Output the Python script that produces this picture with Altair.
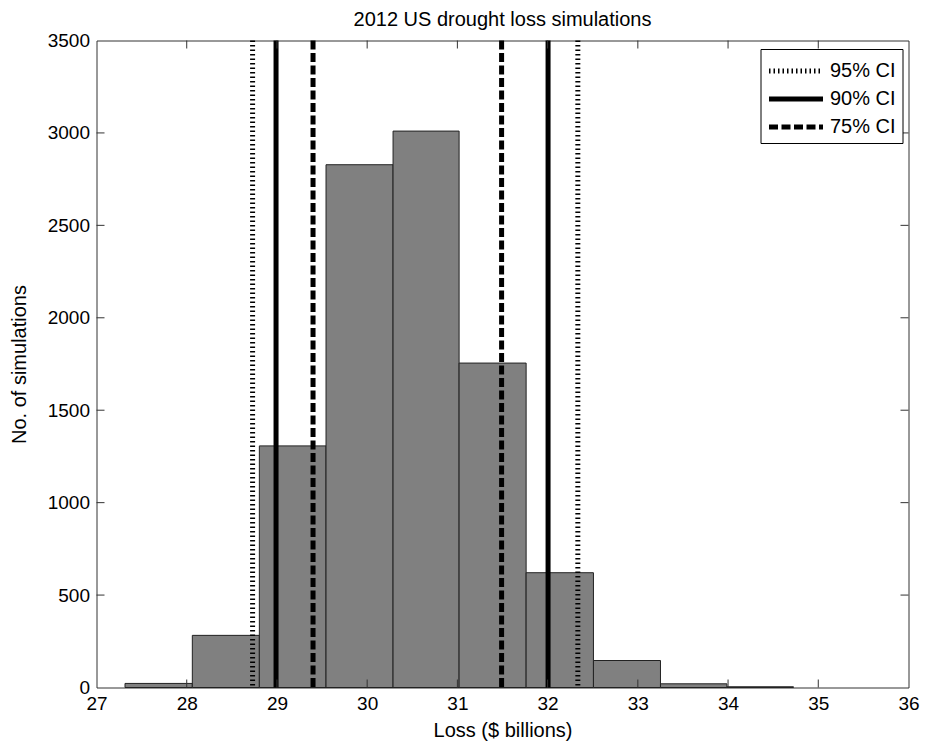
import altair as alt
import pandas as pd

# histogram bins (left/right edges in $ billions) and counts
bin_left = [27.316, 28.062, 28.805, 29.544, 30.287, 31.019, 31.762, 32.508, 33.251, 33.987]
bin_right = [28.062, 28.805, 29.544, 30.287, 31.019, 31.762, 32.508, 33.251, 33.987, 34.725]
counts = [22, 282, 1307, 2828, 3010, 1755, 621, 146, 20, 4]

# confidence interval bounds
ci_labels = ["95% CI", "90% CI", "75% CI"]
ci_lower = [28.73, 28.99, 29.40]
ci_upper = [32.335, 32.005, 31.49]

x_ticks = list(range(27, 37))
y_ticks = list(range(0, 3501, 500))

W, H = 812, 647
FONT = "Liberation Sans"

bars_df = pd.DataFrame({"lo": bin_left, "hi": bin_right, "count": counts, "zero": [0] * len(counts)})
ci_df = pd.DataFrame({
    "label": ci_labels + ci_labels,
    "lo": ci_lower + ci_upper,
})
xt_df = pd.DataFrame({"lo": x_ticks[1:-1]})
yt_df = pd.DataFrame({"count": y_ticks[1:-1]})

xs = alt.Scale(domain=[27, 36], nice=False, zero=False)
ys = alt.Scale(domain=[0, 3500], nice=False)

x_axis = alt.Axis(
    values=x_ticks, title="Loss ($ billions)", ticks=False, domain=False, grid=False,
    labelPadding=7, labelFontSize=19, titleFontSize=20, titleFontWeight="normal",
    titlePadding=7, labelFont=FONT, titleFont=FONT, labelColor="black", titleColor="black",
    labelFlush=False, format="d")
y_axis = alt.Axis(
    values=y_ticks, title="No. of simulations", ticks=False, domain=False, grid=False,
    labelPadding=7, labelFontSize=19, titleFontSize=20, titleFontWeight="normal",
    titlePadding=18, labelFont=FONT, titleFont=FONT, labelColor="black", titleColor="black",
    labelFlush=False, format="d")

bars = alt.Chart(bars_df).mark_rect(fill="#808080", stroke="#222222", strokeWidth=1).encode(
    x=alt.X("lo:Q", scale=xs, axis=x_axis, title="Loss ($ billions)"),
    x2="hi:Q",
    y=alt.Y("count:Q", scale=ys, axis=y_axis, title="No. of simulations"),
    y2="zero:Q",
)

ci = alt.Chart(ci_df).mark_rule(strokeWidth=5, color="black").encode(
    x=alt.X("lo:Q", scale=xs, axis=x_axis, title="Loss ($ billions)"),
    strokeDash=alt.StrokeDash("label:N", sort=ci_labels, scale=alt.Scale(
        domain=ci_labels, range=[[1.5, 3], [1, 0], [9, 3.5]]),
        legend=alt.Legend(
            title=None, orient="none", legendX=664, legendY=8.5,
            symbolType="M-2,0H2", symbolSize=729, symbolStrokeWidth=5,
            symbolOffset=13.5, symbolFillColor="transparent",
            symbolStrokeColor="black", strokeColor="black", fillColor="white",
            padding=6, labelFontSize=20, labelFont=FONT, labelColor="black",
            rowPadding=2, labelOffset=18)),
)

tick_style = dict(color="#333333", strokeWidth=1)
xt_bottom = alt.Chart(xt_df).mark_rule(**tick_style).encode(
    x=alt.X("lo:Q", scale=xs, axis=x_axis, title="Loss ($ billions)"),
    y=alt.value(H), y2=alt.value(H - 8))
xt_top = alt.Chart(xt_df).mark_rule(**tick_style).encode(
    x=alt.X("lo:Q", scale=xs, axis=x_axis, title="Loss ($ billions)"),
    y=alt.value(0), y2=alt.value(8))
yt_left = alt.Chart(yt_df).mark_rule(**tick_style).encode(
    y=alt.Y("count:Q", scale=ys, axis=y_axis, title="No. of simulations"),
    x=alt.value(0), x2=alt.value(8))
yt_right = alt.Chart(yt_df).mark_rule(**tick_style).encode(
    y=alt.Y("count:Q", scale=ys, axis=y_axis, title="No. of simulations"),
    x=alt.value(W), x2=alt.value(W - 8))

chart = alt.layer(bars, ci, xt_bottom, xt_top, yt_left, yt_right).properties(
    width=W, height=H,
    title=alt.TitleParams("2012 US drought loss simulations", fontSize=20, font=FONT,
                          fontWeight="normal", anchor="middle", offset=2, color="black"),
    autosize=alt.AutoSizeParams(type="none"),
    padding={"left": 88.5, "top": 32.5, "right": 12, "bottom": 60},
    background="white",
).configure_view(stroke="#333333", strokeWidth=1)

chart.save("out.html", embed_options={"renderer": "svg", "actions": False})
